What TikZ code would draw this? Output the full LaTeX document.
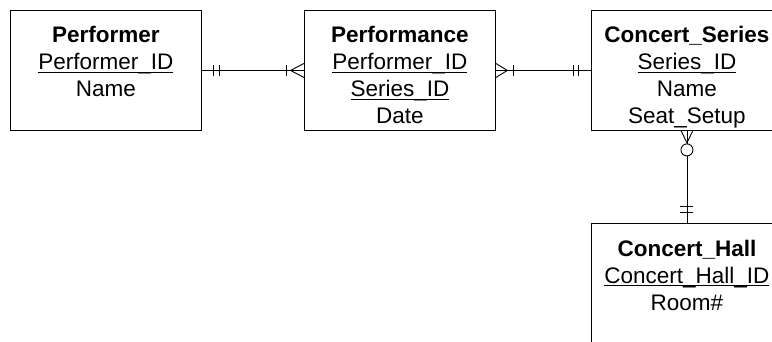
\documentclass[tikz,border=0pt]{standalone}
\usepackage{fontspec}
\setmainfont{Liberation Sans}
\newcommand{\und}[1]{\setbox0\hbox{#1}\rlap{\rule[-2.5pt]{\wd0}{0.9pt}}\box0}
\begin{document}
\begin{tikzpicture}[x=1pt,y=-1pt, line width=0.9pt,
  ebox/.style={draw, minimum width=191pt, minimum height=120pt, inner sep=0pt, anchor=north west},
  etxt/.style={anchor=base, inner sep=0pt, font=\fontsize{22.5}{27}\selectfont},
  optc/.style={circle, draw, fill=white, minimum size=12pt, inner sep=0pt}]
\useasboundingbox (0,0) rectangle (772,342);
\clip (0,0) rectangle (772,342);
% entity boxes
\node[ebox] (performer) at (10,10) {};
\node[ebox] (performance) at (304,10) {};
\node[ebox] (series) at (591,10) {};
\node[ebox] (hall) at (591,223.5) {};
% texts
\node[etxt] (p1) at ([yshift=-33pt]performer.north) {\textbf{Performer}};
\node[etxt] (p2) at ([yshift=-60pt]performer.north) {\und{Performer\_ID}};
\node[etxt] (p3) at ([yshift=-87pt]performer.north) {Name};
\node[etxt] (f1) at ([yshift=-33pt]performance.north) {\textbf{Performance}};
\node[etxt] (f2) at ([yshift=-60pt]performance.north) {\und{Performer\_ID}};
\node[etxt] (f3) at ([yshift=-87pt]performance.north) {\und{Series\_ID}};
\node[etxt] (f4) at ([yshift=-114pt]performance.north) {Date};
\node[etxt] (s1) at ([yshift=-33pt]series.north) {\textbf{Concert\_Series}};
\node[etxt] (s2) at ([yshift=-60pt]series.north) {\und{Series\_ID}};
\node[etxt] (s3) at ([yshift=-87pt]series.north) {Name};
\node[etxt] (s4) at ([yshift=-114pt]series.north) {Seat\_Setup};
\node[etxt] (h1) at ([yshift=-33pt]hall.north) {\textbf{Concert\_Hall}};
\node[etxt] (h2) at ([yshift=-60pt]hall.north) {\und{Concert\_Hall\_ID}};
\node[etxt] (h3) at ([yshift=-87pt]hall.north) {Room\#};
% Performer -- Performance
\draw (performer.east) -- (performance.west);
\draw ([xshift=12pt,yshift=-5.5pt]performer.east) -- ([xshift=12pt,yshift=5.5pt]performer.east);
\draw ([xshift=17.5pt,yshift=-5.5pt]performer.east) -- ([xshift=17.5pt,yshift=5.5pt]performer.east);
\draw ([xshift=-18pt,yshift=-5.5pt]performance.west) -- ([xshift=-18pt,yshift=5.5pt]performance.west);
\draw ([yshift=7pt]performance.west) -- ([xshift=-13.5pt]performance.west) -- ([yshift=-7pt]performance.west);
% Performance -- Concert_Series
\draw (performance.east) -- (series.west);
\draw ([yshift=7pt]performance.east) -- ([xshift=11.5pt]performance.east) -- ([yshift=-7pt]performance.east);
\draw ([xshift=17.5pt,yshift=-5.5pt]performance.east) -- ([xshift=17.5pt,yshift=5.5pt]performance.east);
\draw ([xshift=-18pt,yshift=-5.5pt]series.west) -- ([xshift=-18pt,yshift=5.5pt]series.west);
\draw ([xshift=-12.5pt,yshift=-5.5pt]series.west) -- ([xshift=-12.5pt,yshift=5.5pt]series.west);
% Concert_Series -- Concert_Hall
\draw (series.south) -- (hall.north);
\draw ([xshift=-5.75pt]series.south) -- ([yshift=-12pt]series.south) -- ([xshift=5.75pt]series.south);
\node[optc] (opt) at ([yshift=-19pt]series.south) {};
\draw ([xshift=-6.5pt,yshift=17.5pt]hall.north) -- ([xshift=6.5pt,yshift=17.5pt]hall.north);
\draw ([xshift=-6.5pt,yshift=11.5pt]hall.north) -- ([xshift=6.5pt,yshift=11.5pt]hall.north);
\end{tikzpicture}
\end{document}
